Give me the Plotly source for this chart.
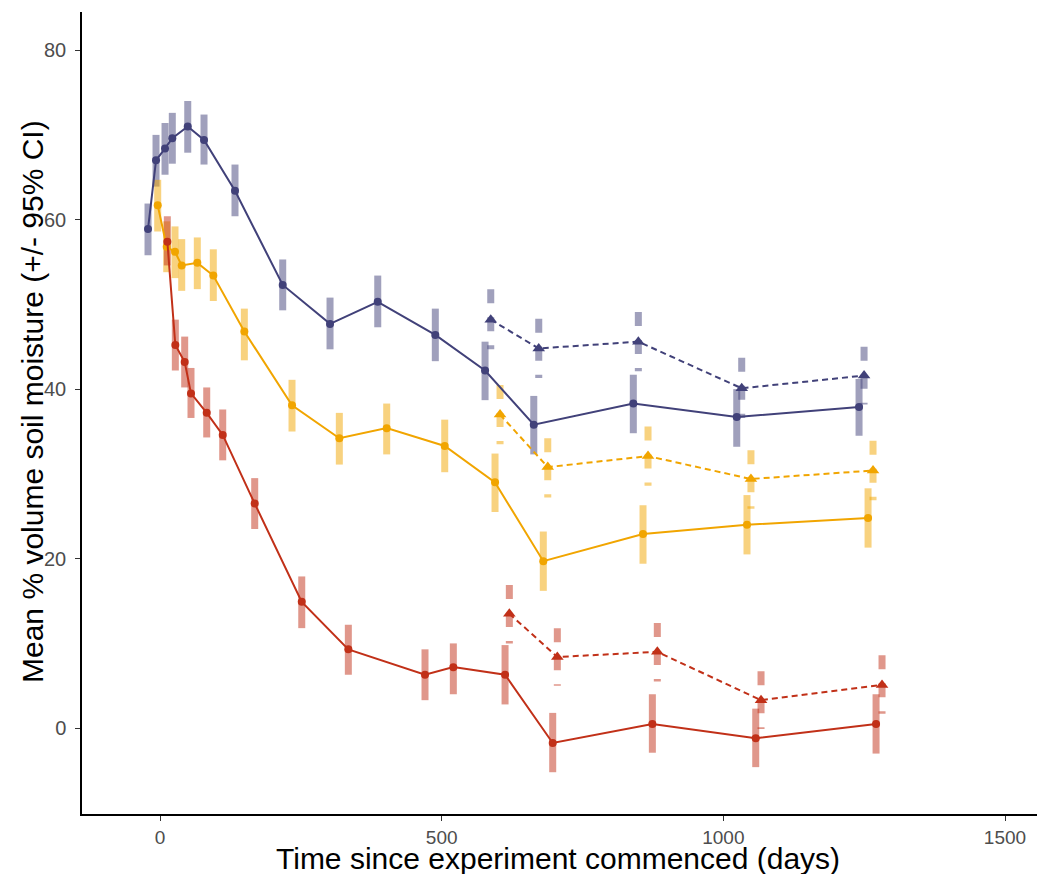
import plotly.graph_objects as go

# ---------------- data ----------------
# Solid series (circles)
blue_days = [-21.3, -7.1, 8.9, 21.8, 49.2, 78.1, 133.1, 217.8, 301.8, 386.5, 488.7, 577.0, 663.5, 840.2, 1023.8, 1240.9]
blue_mean = [58.9, 67.0, 68.4, 69.6, 71.0, 69.4, 63.4, 52.3, 47.7, 50.3, 46.4, 42.2, 35.8, 38.3, 36.7, 37.9]
blue_hi = [61.9, 70.0, 71.4, 72.6, 74.0, 72.4, 66.5, 55.3, 50.8, 53.4, 49.5, 45.6, 39.2, 41.7, 40.0, 41.2]
blue_lo = [55.8, 63.9, 65.3, 66.6, 67.9, 66.5, 60.4, 49.3, 44.7, 47.3, 43.3, 38.7, 32.3, 34.8, 33.2, 34.5]

orange_days = [-4.1, 11.9, 26.6, 38.5, 66.2, 94.6, 149.7, 234.3, 318.3, 402.4, 505.4, 594.7, 680.4, 857.4, 1042.0, 1256.9]
orange_mean = [61.7, 56.8, 56.2, 54.6, 54.9, 53.4, 46.8, 38.1, 34.2, 35.4, 33.3, 29.0, 19.7, 22.9, 24.0, 24.8]
orange_hi = [64.7, 59.8, 59.2, 57.7, 57.9, 56.5, 49.5, 41.1, 37.2, 38.3, 36.4, 32.4, 23.2, 26.3, 27.5, 28.3]
orange_lo = [58.6, 53.8, 53.1, 51.6, 51.8, 50.4, 43.4, 35.0, 31.1, 32.3, 30.2, 25.5, 16.2, 19.4, 20.5, 21.3]

red_days = [13.0, 27.2, 43.8, 55.0, 82.9, 111.3, 168.1, 251.6, 334.3, 470.4, 520.7, 612.5, 697.1, 874.0, 1057.5, 1271.1]
red_mean = [57.4, 45.2, 43.2, 39.5, 37.2, 34.6, 26.5, 14.9, 9.3, 6.3, 7.2, 6.3, -1.75, 0.5, -1.2, 0.5]
red_hi = [60.4, 48.2, 46.2, 42.5, 40.2, 37.6, 29.5, 17.9, 12.2, 9.3, 10.0, 9.8, 1.8, 4.0, 2.3, 4.0]
red_lo = [54.6, 42.2, 40.2, 36.6, 34.3, 31.6, 23.5, 11.8, 6.3, 3.3, 4.0, 2.8, -5.2, -2.9, -4.6, -3.0]

# Dashed series (triangles)
blue2_days = [587.1, 672.3, 849.1, 1032.6, 1249.8]
blue2_mean = [48.2, 44.8, 45.6, 40.1, 41.6]
blue2_hi = [51.8, 48.3, 49.1, 43.7, 45.0]
blue2_lo = [44.7, 41.3, 42.1, 36.6, 38.2]

orange2_days = [603.6, 688.3, 866.3, 1049.0, 1265.7]
orange2_mean = [37.0, 30.8, 32.1, 29.4, 30.4]
orange2_hi = [40.5, 34.2, 35.6, 32.8, 33.9]
orange2_lo = [33.5, 27.2, 28.6, 25.9, 26.9]

red2_days = [620.1, 705.3, 882.8, 1066.9, 1281.7]
red2_mean = [13.5, 8.4, 9.0, 3.3, 5.1]
red2_hi = [16.9, 11.8, 12.4, 6.7, 8.6]
red2_lo = [10.0, 5.0, 5.5, -0.1, 1.7]

x_ticks = [0, 500, 1000, 1500]
y_ticks = [0, 20, 40, 60, 80]

x_title = "Time since experiment commenced (days)"
y_title = "Mean % volume soil moisture (+/- 95% CI)"

# ---------------- styles ----------------
COL = {"blue": (65, 65, 121), "orange": (241, 165, 0), "red": (193, 48, 24)}

solid = [("blue", blue_days, blue_mean, blue_lo, blue_hi),
         ("orange", orange_days, orange_mean, orange_lo, orange_hi),
         ("red", red_days, red_mean, red_lo, red_hi)]
dashed = [("blue", blue2_days, blue2_mean, blue2_lo, blue2_hi),
          ("orange", orange2_days, orange2_mean, orange2_lo, orange2_hi),
          ("red", red2_days, red2_mean, red2_lo, red2_hi)]


def rgba(c, a):
    return "rgba(%d,%d,%d,%s)" % (c[0], c[1], c[2], a)


def rgb(c):
    return "rgb(%d,%d,%d)" % c


def segs(xs, lo, hi):
    sx, sy = [], []
    for x, l, h in zip(xs, lo, hi):
        sx += [x, x, None]
        sy += [h, l, None]  # drawn top to bottom
    return sx, sy


fig = go.Figure()

# confidence-interval bars
for group, dash in ((solid, "solid"), (dashed, "14px,14px")):
    for name, xs, m, lo, hi in group:
        sx, sy = segs(xs, lo, hi)
        fig.add_trace(go.Scatter(x=sx, y=sy, mode="lines", connectgaps=False,
                                 line=dict(color=rgba(COL[name], 0.5), width=7, dash=dash),
                                 hoverinfo="skip", showlegend=False))

# mean lines with markers
for name, xs, m, lo, hi in solid:
    fig.add_trace(go.Scatter(x=xs, y=m, mode="lines+markers",
                             line=dict(color=rgb(COL[name]), width=2),
                             marker=dict(symbol="circle", size=8, color=rgb(COL[name])),
                             showlegend=False))
for name, xs, m, lo, hi in dashed:
    fig.add_trace(go.Scatter(x=xs, y=m, mode="lines+markers",
                             line=dict(color=rgb(COL[name]), width=2, dash="6px,4px"),
                             marker=dict(symbol="triangle-up", size=11, color=rgb(COL[name])),
                             showlegend=False))

FONT = "Liberation Sans, Arial, sans-serif"

# the page body adds an 8 px offset, so the figure is 8 px smaller than the window
fig.update_layout(
    width=1037, height=866,
    margin=dict(l=74, r=0, t=4, b=60),
    paper_bgcolor="white", plot_bgcolor="white",
    font=dict(family=FONT, color="black"),
    showlegend=False,
    annotations=[
        dict(text=y_title, textangle=-90, xref="paper", yref="paper",
             x=0, y=0.5, xanchor="center", yanchor="middle",
             xshift=-50, yshift=11, showarrow=False,
             font=dict(size=30, color="black", family=FONT)),
        dict(text=x_title, xref="paper", yref="paper",
             x=0.5, y=0, xanchor="center", yanchor="middle",
             xshift=-6, yshift=-44, showarrow=False,
             font=dict(size=30, color="black", family=FONT)),
    ],
)
fig.update_xaxes(
    range=[-138.5, 1571], tickvals=x_ticks, ticktext=[str(v) for v in x_ticks],
    showgrid=False, zeroline=False, automargin=False,
    showline=True, linecolor="black", linewidth=1.5,
    ticks="outside", ticklen=5, tickwidth=1.2, tickcolor="#333333",
    ticklabelstandoff=0,
    tickfont=dict(size=19, color="#4D4D4D", family=FONT),
)
fig.update_yaxes(
    range=[-10.13, 84.5], tickvals=y_ticks, ticktext=[str(v) for v in y_ticks],
    showgrid=False, zeroline=False, automargin=False,
    showline=True, linecolor="black", linewidth=1.5,
    ticks="outside", ticklen=5, tickwidth=1.2, tickcolor="#333333",
    ticklabelstandoff=5,
    tickfont=dict(size=20, color="#4D4D4D", family=FONT),
)

fig.write_html("out.html")
